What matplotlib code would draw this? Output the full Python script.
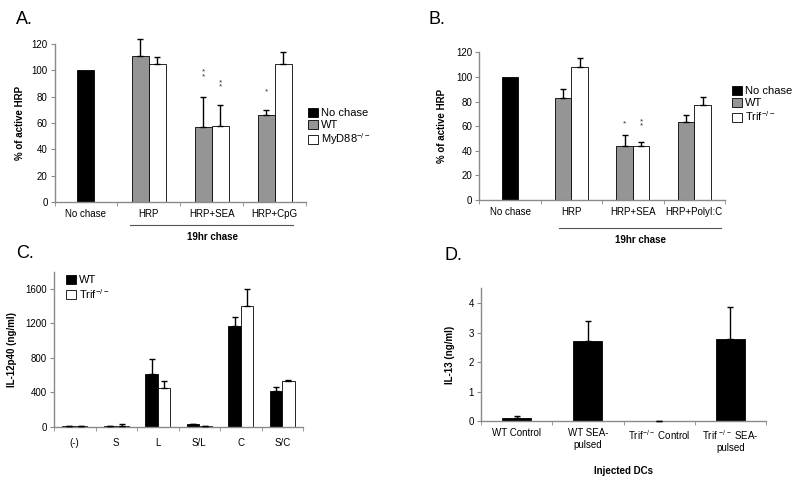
import numpy as np
import matplotlib
matplotlib.use("Agg")
import matplotlib.pyplot as plt
from matplotlib.patches import Patch

plt.rcParams['font.family'] = ['Liberation Sans', 'DejaVu Sans']
plt.rcParams['mathtext.default'] = 'regular'

# ---------------- data ----------------
A_cats = ["No chase", "HRP", "HRP+SEA", "HRP+CpG"]
A_nochase = 100
A_wt = [111, 57, 66]
A_wt_err = [13, 23, 4]
A_myd = [105, 58, 105]
A_myd_err = [5, 16, 9]

B_cats = ["No chase", "HRP", "HRP+SEA", "HRP+PolyI:C"]
B_nochase = 100
B_wt = [83, 44, 63]
B_wt_err = [7, 9, 6]
B_trif = [108, 44, 77]
B_trif_err = [7, 3, 7]

C_cats = ["(-)", "S", "L", "S/L", "C", "S/C"]
C_wt = [5, 3, 610, 30, 1170, 415]
C_wt_err = [0, 0, 180, 5, 105, 45]
C_trif = [5, 5, 445, 5, 1405, 530]
C_trif_err = [0, 25, 85, 0, 190, 10]

D_cats = ["WT Control", "WT SEA-\npulsed", "Trif$^{-/-}$ Control", "Trif $^{-/-}$ SEA-\npulsed"]
D_vals = [0.1, 2.7, 0.01, 2.78]
D_err = [0.07, 0.7, 0.0, 1.09]

GRAY = '#959595'
SPINE = '#8a8a8a'
FS = 7

fig = plt.figure(figsize=(8, 4.88), dpi=100)


def px_axes(l, r, b, t):
    return fig.add_axes([l / 800, (488 - b) / 488, (r - l) / 800, (b - t) / 488])


def style(ax, ncat):
    for s in ['top', 'right']:
        ax.spines[s].set_visible(False)
    for s in ['left', 'bottom']:
        ax.spines[s].set_color(SPINE)
        ax.spines[s].set_linewidth(1.0)
    ax.tick_params(axis='y', length=3, color=SPINE, labelsize=FS, pad=2)
    ax.tick_params(axis='x', which='major', length=0, labelsize=FS, pad=5)
    ax.set_xticks(np.arange(-0.5, ncat, 1.0), minor=True)
    ax.tick_params(axis='x', which='minor', length=3, color=SPINE)
    ax.set_xlim(-0.5, ncat - 0.5)


def bars(ax, x, h, err, color, w):
    ax.bar(x, h, width=w, color=color, edgecolor='black', linewidth=0.6, zorder=2)
    eb = ax.errorbar(x, h, yerr=[np.zeros(len(h)), err], fmt='none', ecolor='black',
                     elinewidth=1.0, capsize=2.5, capthick=1.0, zorder=3)
    for art in eb.lines[1] + eb.lines[2]:
        art.set_clip_on(False)


def stars(ax, x, y, n):
    ax.text(x, y, "\n".join(["*"] * n), ha='center', va='center', fontsize=6,
            linespacing=0.5, color='#333333')

# ---------------- Panel A ----------------
axA = px_axes(54.5, 306, 202, 44)
style(axA, 4)
xg = np.arange(1, 4)
w = 0.27
axA.bar([0], [A_nochase], width=w, color='black', edgecolor='black', linewidth=0.6, zorder=2)
bars(axA, xg - w / 2, A_wt, A_wt_err, GRAY, w)
bars(axA, xg + w / 2, A_myd, A_myd_err, 'white', w)
axA.set_ylim(0, 120)
axA.set_yticks(np.arange(0, 121, 20))
axA.set_xticks(range(4))
axA.set_xticklabels(A_cats)
axA.set_ylabel("% of active HRP", fontsize=FS, fontweight='bold')
axA.yaxis.set_label_coords(-0.117, 0.5)
stars(axA, 2 - w / 2, 97, 2)
stars(axA, 2 + w / 2, 89, 2)
stars(axA, 3 - w / 2, 84, 1)
trA = axA.get_xaxis_transform()
axA.plot([0.70, 3.29], [-0.146, -0.146], color='#555555', lw=0.8, transform=trA, clip_on=False)
axA.text(2.02, -0.22, "19hr chase", transform=trA, ha='center', va='center',
         fontsize=FS, fontweight='bold')
fig.legend(handles=[Patch(fc='black', ec='black', lw=0.6, label='No chase'),
                    Patch(fc=GRAY, ec='black', lw=0.6, label='WT'),
                    Patch(fc='white', ec='black', lw=0.6, label='MyD88$^{-/-}$')],
           loc='upper left', bbox_to_anchor=(308 / 800, 1 - 108 / 488), frameon=False,
           fontsize=8, handlelength=0.9, handleheight=0.9, handletextpad=0.3,
           borderpad=0, borderaxespad=0, labelspacing=0.12)
fig.text(16 / 800, 1 - 19 / 488, "A.", fontsize=13, ha='left', va='center')

# ---------------- Panel B ----------------
axB = px_axes(479.3, 725, 200, 52.3)
style(axB, 4)
axB.bar([0], [B_nochase], width=w, color='black', edgecolor='black', linewidth=0.6, zorder=2)
bars(axB, xg - w / 2, B_wt, B_wt_err, GRAY, w)
bars(axB, xg + w / 2, B_trif, B_trif_err, 'white', w)
axB.set_ylim(0, 120)
axB.set_yticks(np.arange(0, 121, 20))
axB.set_xticks(range(4))
axB.set_xticklabels(B_cats)
axB.set_ylabel("% of active HRP", fontsize=FS, fontweight='bold')
axB.yaxis.set_label_coords(-0.131, 0.5)
stars(axB, 2 - w / 2, 62, 1)
stars(axB, 2 + w / 2, 62, 2)
trB = axB.get_xaxis_transform()
axB.plot([0.80, 3.43], [-0.19, -0.19], color='#555555', lw=0.8, transform=trB, clip_on=False)
axB.text(2.12, -0.27, "19hr chase", transform=trB, ha='center', va='center',
         fontsize=FS, fontweight='bold')
fig.legend(handles=[Patch(fc='black', ec='black', lw=0.6, label='No chase'),
                    Patch(fc=GRAY, ec='black', lw=0.6, label='WT'),
                    Patch(fc='white', ec='black', lw=0.6, label='Trif$^{-/-}$')],
           loc='upper left', bbox_to_anchor=(732 / 800, 1 - 86 / 488), frameon=False,
           fontsize=8, handlelength=0.9, handleheight=0.9, handletextpad=0.3,
           borderpad=0, borderaxespad=0, labelspacing=0.12)
fig.text(429 / 800, 1 - 20 / 488, "B.", fontsize=13, ha='left', va='center')

# ---------------- Panel C ----------------
axC = px_axes(54, 303, 426.7, 271.7)
style(axC, 6)
xc = np.arange(6)
wc = 0.3
bars(axC, xc - wc / 2, C_wt, C_wt_err, 'black', wc)
bars(axC, xc + wc / 2, C_trif, C_trif_err, 'white', wc)
axC.set_ylim(0, 1800)
axC.set_yticks(np.arange(0, 1601, 400))
axC.set_xticks(xc)
axC.set_xticklabels(C_cats)
axC.tick_params(axis='x', which='major', pad=8)
axC.set_ylabel("IL-12p40 (ng/ml)", fontsize=FS, fontweight='bold')
axC.yaxis.set_label_coords(-0.149, 0.5)
axC.legend(handles=[Patch(fc='black', ec='black', lw=0.6, label='WT'),
                    Patch(fc='white', ec='black', lw=0.6, label='Trif$^{-/-}$')],
           loc='upper left', bbox_to_anchor=(66 / 800, 1 - 275 / 488),
           bbox_transform=fig.transFigure, frameon=False,
           fontsize=8, handlelength=0.9, handleheight=0.9, handletextpad=0.3,
           borderpad=0, borderaxespad=0, labelspacing=0.12)
fig.text(16 / 800, 1 - 254 / 488, "C.", fontsize=13, ha='left', va='center')

# ---------------- Panel D ----------------
axD = px_axes(481, 766, 421, 288.3)
style(axD, 4)
xd = np.arange(4)
bars(axD, xd, D_vals, D_err, 'black', 0.41)
axD.set_ylim(0, 4.5)
axD.set_yticks(np.arange(0, 5, 1))
axD.set_xticks(xd)
axD.set_xticklabels(D_cats)
axD.set_ylabel("IL-13 (ng/ml)", fontsize=FS, fontweight='bold')
axD.yaxis.set_label_coords(-0.091, 0.5)
axD.set_xlabel("Injected DCs", fontsize=FS, fontweight='bold', labelpad=9)
fig.text(444 / 800, 1 - 255 / 488, "D.", fontsize=13, ha='left', va='center')

fig.savefig("out.png", dpi=100)
